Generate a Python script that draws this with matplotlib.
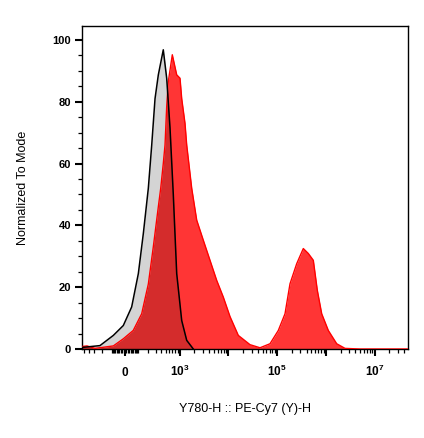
import matplotlib
matplotlib.use('Agg')
import matplotlib.pyplot as plt
import numpy as np

plt.rcParams['font.family'] = ['Liberation Sans', 'DejaVu Sans']
plt.rcParams['mathtext.default'] = 'regular'

# control histogram (grey, black outline)
ctrl_x = [-563, -222, -87, -12, 48, 101, 147, 201, 244, 292, 347, 446, 528,
          621, 728, 791, 858, 1090, 1383, 1892]
ctrl_y = [0.5, 1.1, 4.4, 7.6, 13.6, 24.4, 37.4, 52, 66, 81, 88.7, 96.8,
          87.6, 71.5, 50, 37, 24.4, 9.2, 2.8, 0]

# stained sample histogram (red)
samp_x = [-563, -440, -292, -87, -12, 60, 131, 201, 266, 347, 392, 446, 486,
          528, 571, 694, 858, 1005, 1090, 1275, 1383, 1754, 2223, 3038, 4172,
          5727, 7826, 10740, 15900, 27650, 44380, 71220, 105400, 144700,
          183200, 251500, 343600, 435400, 551600, 666300, 820300, 1121000,
          1666000, 2470000, 5020000, 48500000]
samp_y = [0.8, 1.0, 0.2, 1.0, 3.3, 6, 11.4, 21, 33, 46, 52, 60, 66, 78.4,
          86.5, 95.2, 88.7, 87.6, 81, 73, 66, 52, 41.7, 35.2, 28.7, 22.2, 16.8,
          10.5, 4.4, 1.4, 0.4, 1.7, 6, 11.4, 21.1, 27.6, 32.5, 30.9, 28.7, 19,
          11.4, 6, 1.7, 0.2, 0, 0]

major_x = [0, 1e3, 1e4, 1e5, 1e6, 1e7]
major_lbl = ['0', '$10^{3}$', '', '$10^{5}$', '', '$10^{7}$']
lin_minor = [10, 20, 30, 40, 50, 60, 70, 80, 90, 100, 200, 300, 400, 500,
             600, 700, 800, 900]
minor_x = ([-v for v in lin_minor if v <= 500] + lin_minor +
           [m * 10 ** e for e in range(3, 8) for m in range(2, 10)])
minor_x = [v for v in minor_x if v < 4.8e7]

fig = plt.figure(figsize=(4.24, 4.38), dpi=100, facecolor='white')
ax = fig.add_axes([82/424, 1-349/438, 326/424, 323/438])
ax.set_xscale('asinh', linear_width=150)

ax.fill_between(samp_x, samp_y, 0, color='#ff3535', lw=0, zorder=1)
ax.fill_between(ctrl_x, ctrl_y, 0, color='black', alpha=0.17, lw=0, zorder=2)
ax.plot(samp_x, samp_y, color='#ff0000', lw=1.0, zorder=3)
ax.plot(ctrl_x, ctrl_y, color='black', lw=1.1, zorder=4)

ax.set_xlim(-563, 4.85e7)
ax.set_ylim(0, 104.5)

ax.set_xticks(major_x, major_lbl)
ax.set_xticks(minor_x, minor=True)
ax.set_yticks([0, 20, 40, 60, 80, 100])
ax.set_yticks(np.arange(5, 105, 5), minor=True)

ax.tick_params(which='major', length=5, width=1.5, pad=3)
ax.tick_params(which='minor', length=2.8, width=0.9)
ax.tick_params(axis='y', labelsize=8)
ax.tick_params(axis='x', which='major', pad=14.5, labelsize=8.5)
for lab in ax.get_xticklabels() + ax.get_yticklabels():
    lab.set_fontweight('bold')
for lab in ax.get_xticklabels():
    lab.set_va('baseline')
for s in ax.spines.values():
    s.set_linewidth(1.0)

ax.set_xlabel('Y780-H :: PE-Cy7 (Y)-H', fontsize=9, labelpad=17)
ax.set_ylabel('Normalized To Mode', fontsize=9, labelpad=17)

fig.savefig('out.png', dpi=100)
